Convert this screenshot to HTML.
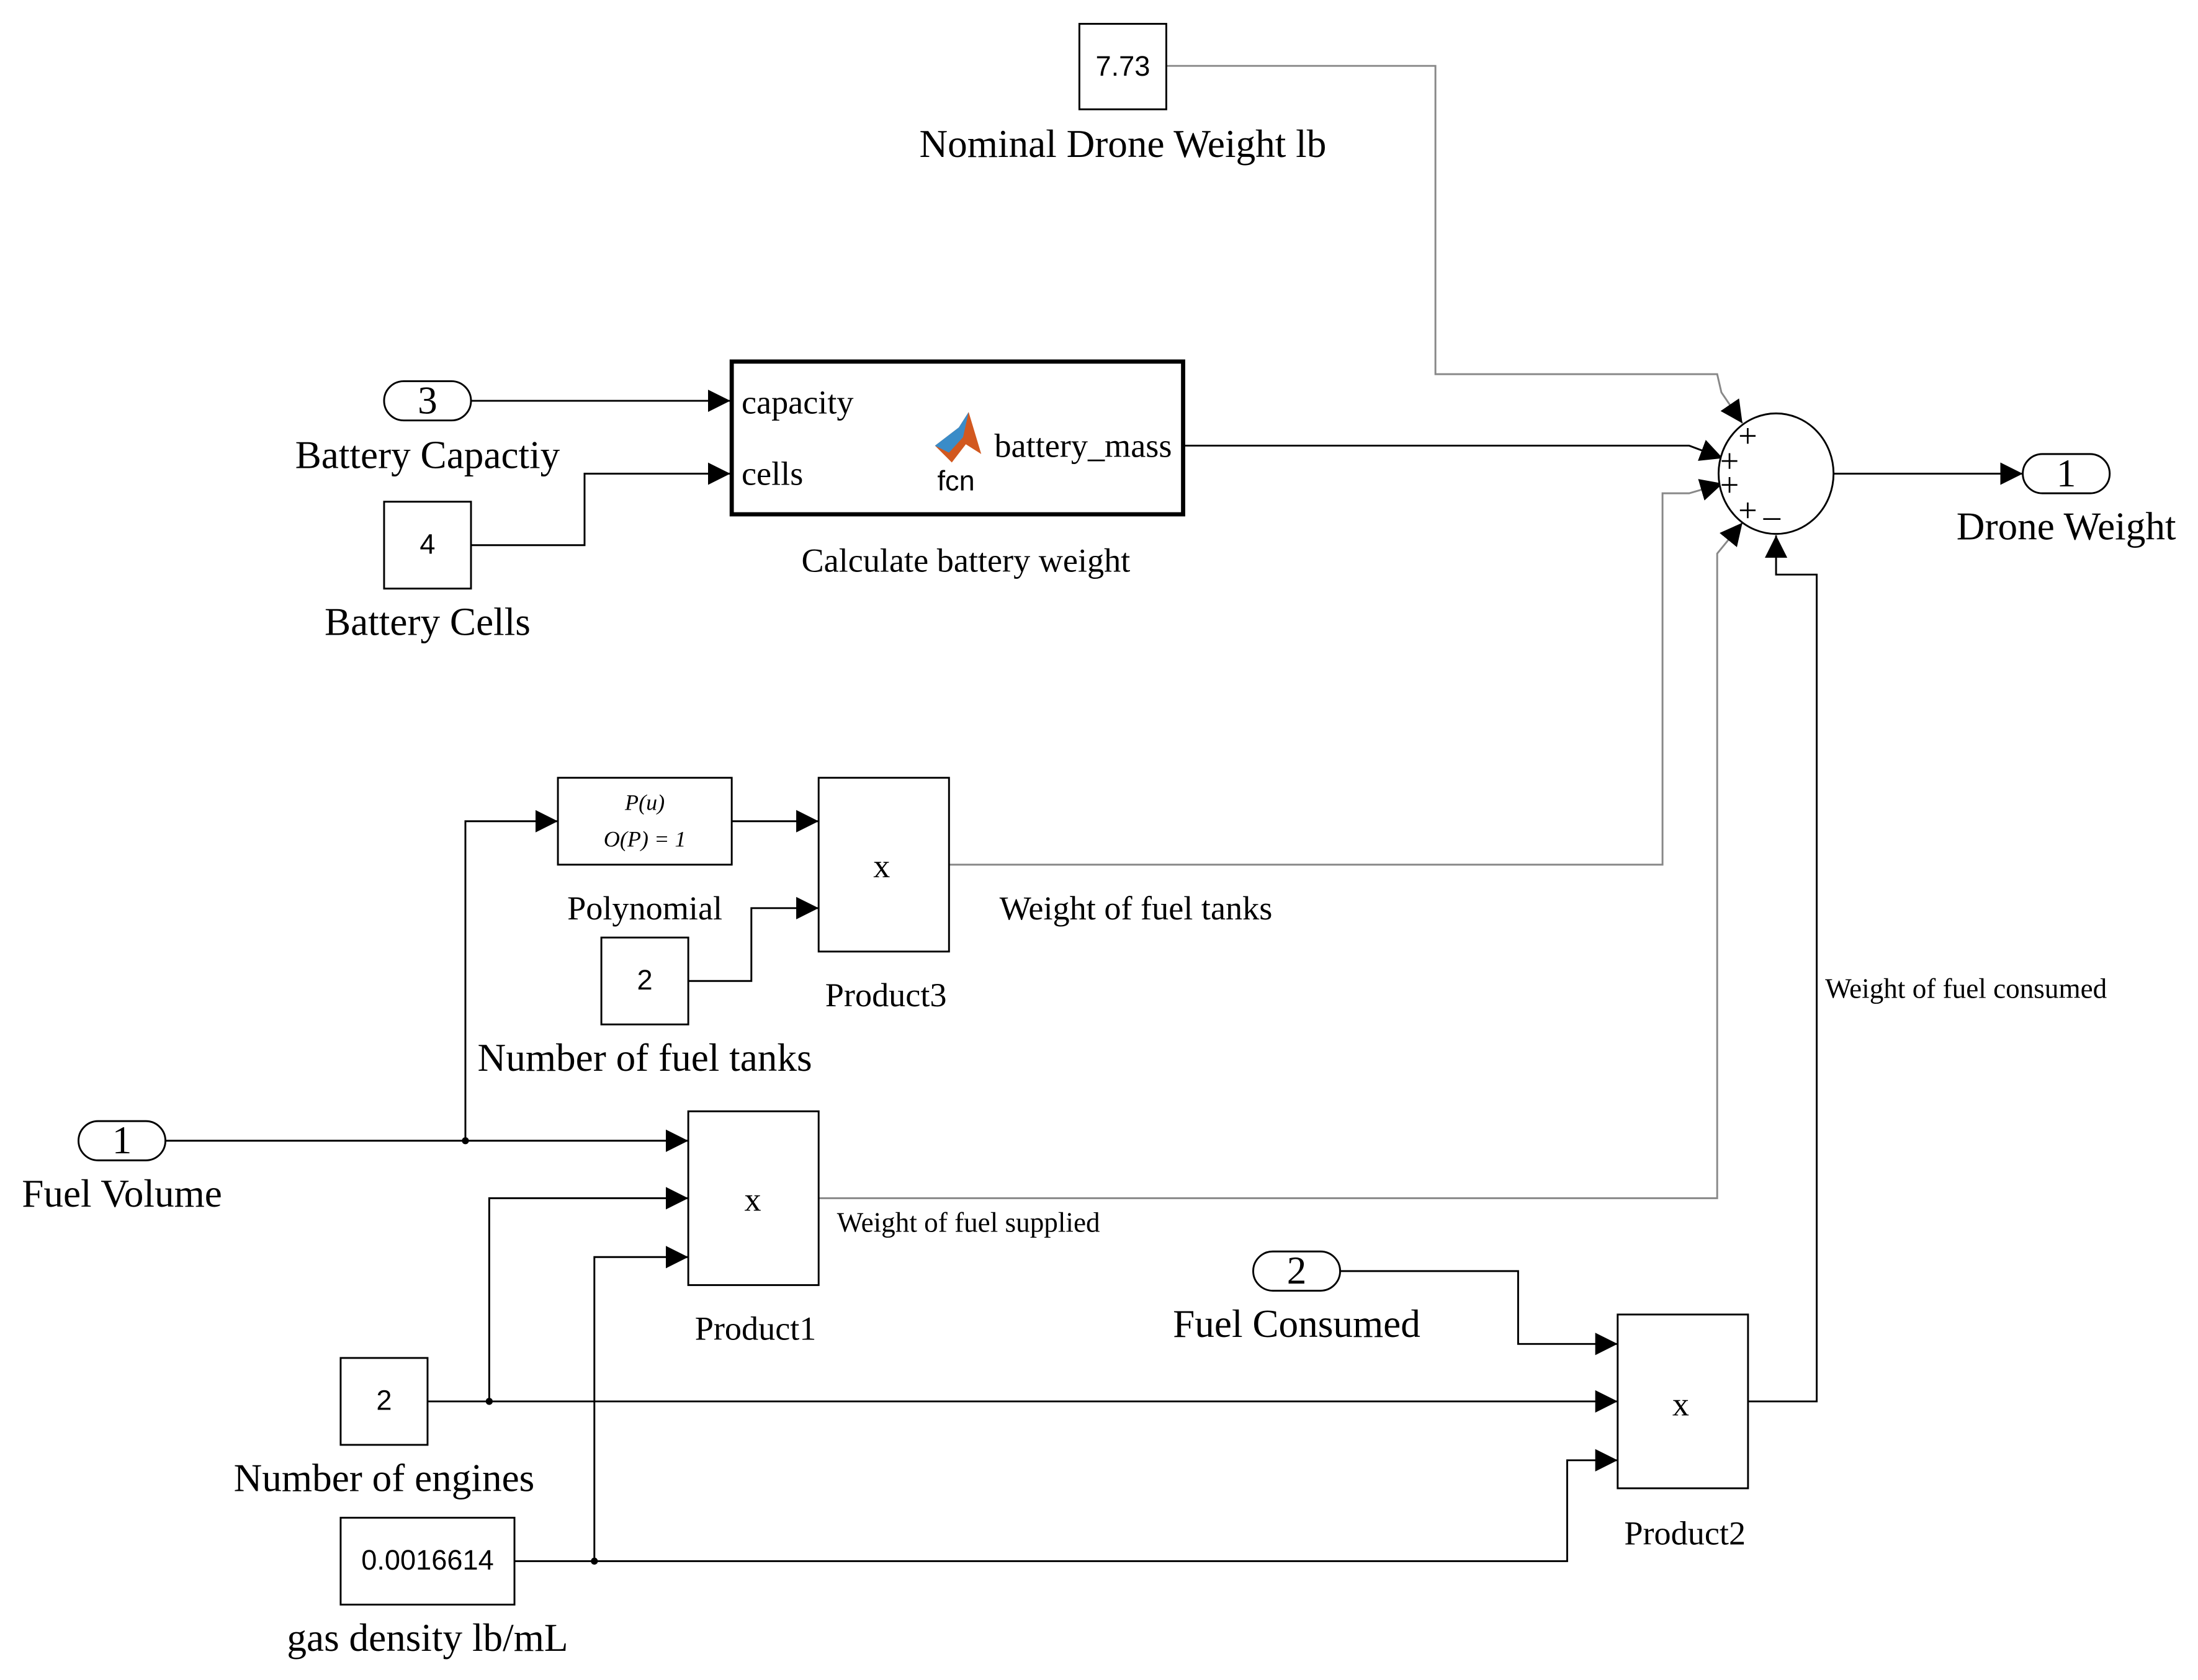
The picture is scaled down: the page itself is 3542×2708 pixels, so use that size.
<!DOCTYPE html>
<html><head><style>html,body{margin:0;padding:0;background:#fff;}svg{display:block}</style></head>
<body>
<svg width="3542" height="2708" viewBox="0 0 1568 1198.8" preserveAspectRatio="none" xmlns="http://www.w3.org/2000/svg">
<defs>
<marker id="a" viewBox="0 0 10 10" refX="10" refY="5" markerWidth="16" markerHeight="16" markerUnits="userSpaceOnUse" orient="auto"><path d="M0,0 L10,5 L0,10 z" fill="#000"/></marker>
</defs>
<g fill="none" stroke-width="1.3">
<path d="M832,47 H1024 V267 H1225 L1228,280 L1243,302" stroke="#888" marker-end="url(#a)"/>
<path d="M844,318 H1205 L1229,327" stroke="#000" marker-end="url(#a)"/>
<path d="M677,617 H1186 V352 H1205 L1229,345" stroke="#888" marker-end="url(#a)"/>
<path d="M584,855 H1225 V395 L1243,373" stroke="#888" marker-end="url(#a)"/>
<path d="M1247,1000 H1296 V410 H1267 V382" stroke="#000" marker-end="url(#a)"/>
<path d="M1308,338 H1443" stroke="#000" marker-end="url(#a)"/>
<path d="M336,286 H521" stroke="#000" marker-end="url(#a)"/>
<path d="M336,389 H417 V338 H521" stroke="#000" marker-end="url(#a)"/>
<path d="M522,586 H584" stroke="#000" marker-end="url(#a)"/>
<path d="M491,700 H536 V648 H584" stroke="#000" marker-end="url(#a)"/>
<path d="M118,814 H491" stroke="#000" marker-end="url(#a)"/>
<path d="M332,814 V586 H398" stroke="#000" marker-end="url(#a)"/>
<path d="M305,1000 H1154" stroke="#000" marker-end="url(#a)"/>
<path d="M349,1000 V855 H491" stroke="#000" marker-end="url(#a)"/>
<path d="M367,1114 H1118 V1042 H1154" stroke="#000" marker-end="url(#a)"/>
<path d="M424,1114 V897 H491" stroke="#000" marker-end="url(#a)"/>
<path d="M956,907 H1083 V959 H1154" stroke="#000" marker-end="url(#a)"/>
</g>
<circle cx="332" cy="814" r="2.5" fill="#000"/>
<circle cx="349" cy="1000" r="2.5" fill="#000"/>
<circle cx="424" cy="1114" r="2.5" fill="#000"/>
<g fill="#fff" stroke="#000" stroke-width="1.3">
<rect x="770" y="17" width="62" height="61"/>
<rect x="274" y="358" width="62" height="62"/>
<rect x="522" y="258" width="322" height="109" stroke-width="3"/>
<rect x="398" y="555" width="124" height="62"/>
<rect x="584" y="555" width="93" height="124"/>
<rect x="429" y="669" width="62" height="62"/>
<rect x="491" y="793" width="93" height="124"/>
<rect x="243" y="969" width="62" height="62"/>
<rect x="243" y="1083" width="124" height="62"/>
<rect x="1154" y="938" width="93" height="124"/>
<rect x="274" y="272" width="62" height="28" rx="14"/>
<rect x="56" y="800" width="62" height="28" rx="14"/>
<rect x="894" y="893" width="62" height="28" rx="14"/>
<rect x="1443" y="324" width="62" height="28" rx="14"/>
<ellipse cx="1267" cy="338" rx="41" ry="43"/>
</g>
<path d="M667,318 L684,305 L691,294 L700,324 L689,317 L679,330 Z" fill="#d2581f"/>
<path d="M667,318 L684,305 L691,294 L687,312 L677,323 Z" fill="#3a8cc8"/>
<g font-family="Liberation Sans, sans-serif" font-size="20" text-anchor="middle" fill="#000">
<text x="801" y="54">7.73</text>
<text x="305" y="395">4</text>
<text x="460" y="706">2</text>
<text x="274" y="1006">2</text>
<text x="305" y="1120">0.0016614</text>
<text x="682" y="350">fcn</text>
</g>
<g font-family="Liberation Serif, serif" fill="#000">
<g font-size="28" text-anchor="middle">
<text x="801" y="112">Nominal Drone Weight lb</text>
<text x="305" y="334">Battery Capactiy</text>
<text x="305" y="453">Battery Cells</text>
<text x="1474" y="385">Drone Weight</text>
<text x="87" y="861">Fuel Volume</text>
<text x="925" y="954">Fuel Consumed</text>
<text x="274" y="1064">Number of engines</text>
<text x="305" y="1178">gas density lb/mL</text>
<text x="460" y="764">Number of fuel tanks</text>
<text x="305" y="295">3</text>
<text x="87" y="823">1</text>
<text x="925" y="916">2</text>
<text x="1474" y="347">1</text>
</g>
<g font-size="24" text-anchor="middle">
<text x="689" y="408">Calculate battery weight</text>
<text x="460" y="656">Polynomial</text>
<text x="632" y="718">Product3</text>
<text x="539" y="956">Product1</text>
<text x="1202" y="1102">Product2</text>
<text x="629" y="626">x</text>
<text x="537" y="864">x</text>
<text x="1199" y="1010">x</text>
</g>
<text x="713" y="656" font-size="24">Weight of fuel tanks</text>
<text x="597" y="879" font-size="20">Weight of fuel supplied</text>
<text x="1302" y="712" font-size="20">Weight of fuel consumed</text>
<text x="529" y="295" font-size="24">capacity</text>
<text x="529" y="346" font-size="24">cells</text>
<text x="836" y="326" font-size="24" text-anchor="end">battery_mass</text>
<g font-size="16" font-style="italic" text-anchor="middle">
<text x="460" y="578">P(u)</text>
<text x="460" y="604">O(P) = 1</text>
</g>
<g font-size="24">
<text x="1240" y="319">+</text>
<text x="1227" y="337">+</text>
<text x="1227" y="354">+</text>
<text x="1240" y="372">+</text>
<text x="1258" y="376">–</text>
</g>
</g>
</svg>
</body></html>
